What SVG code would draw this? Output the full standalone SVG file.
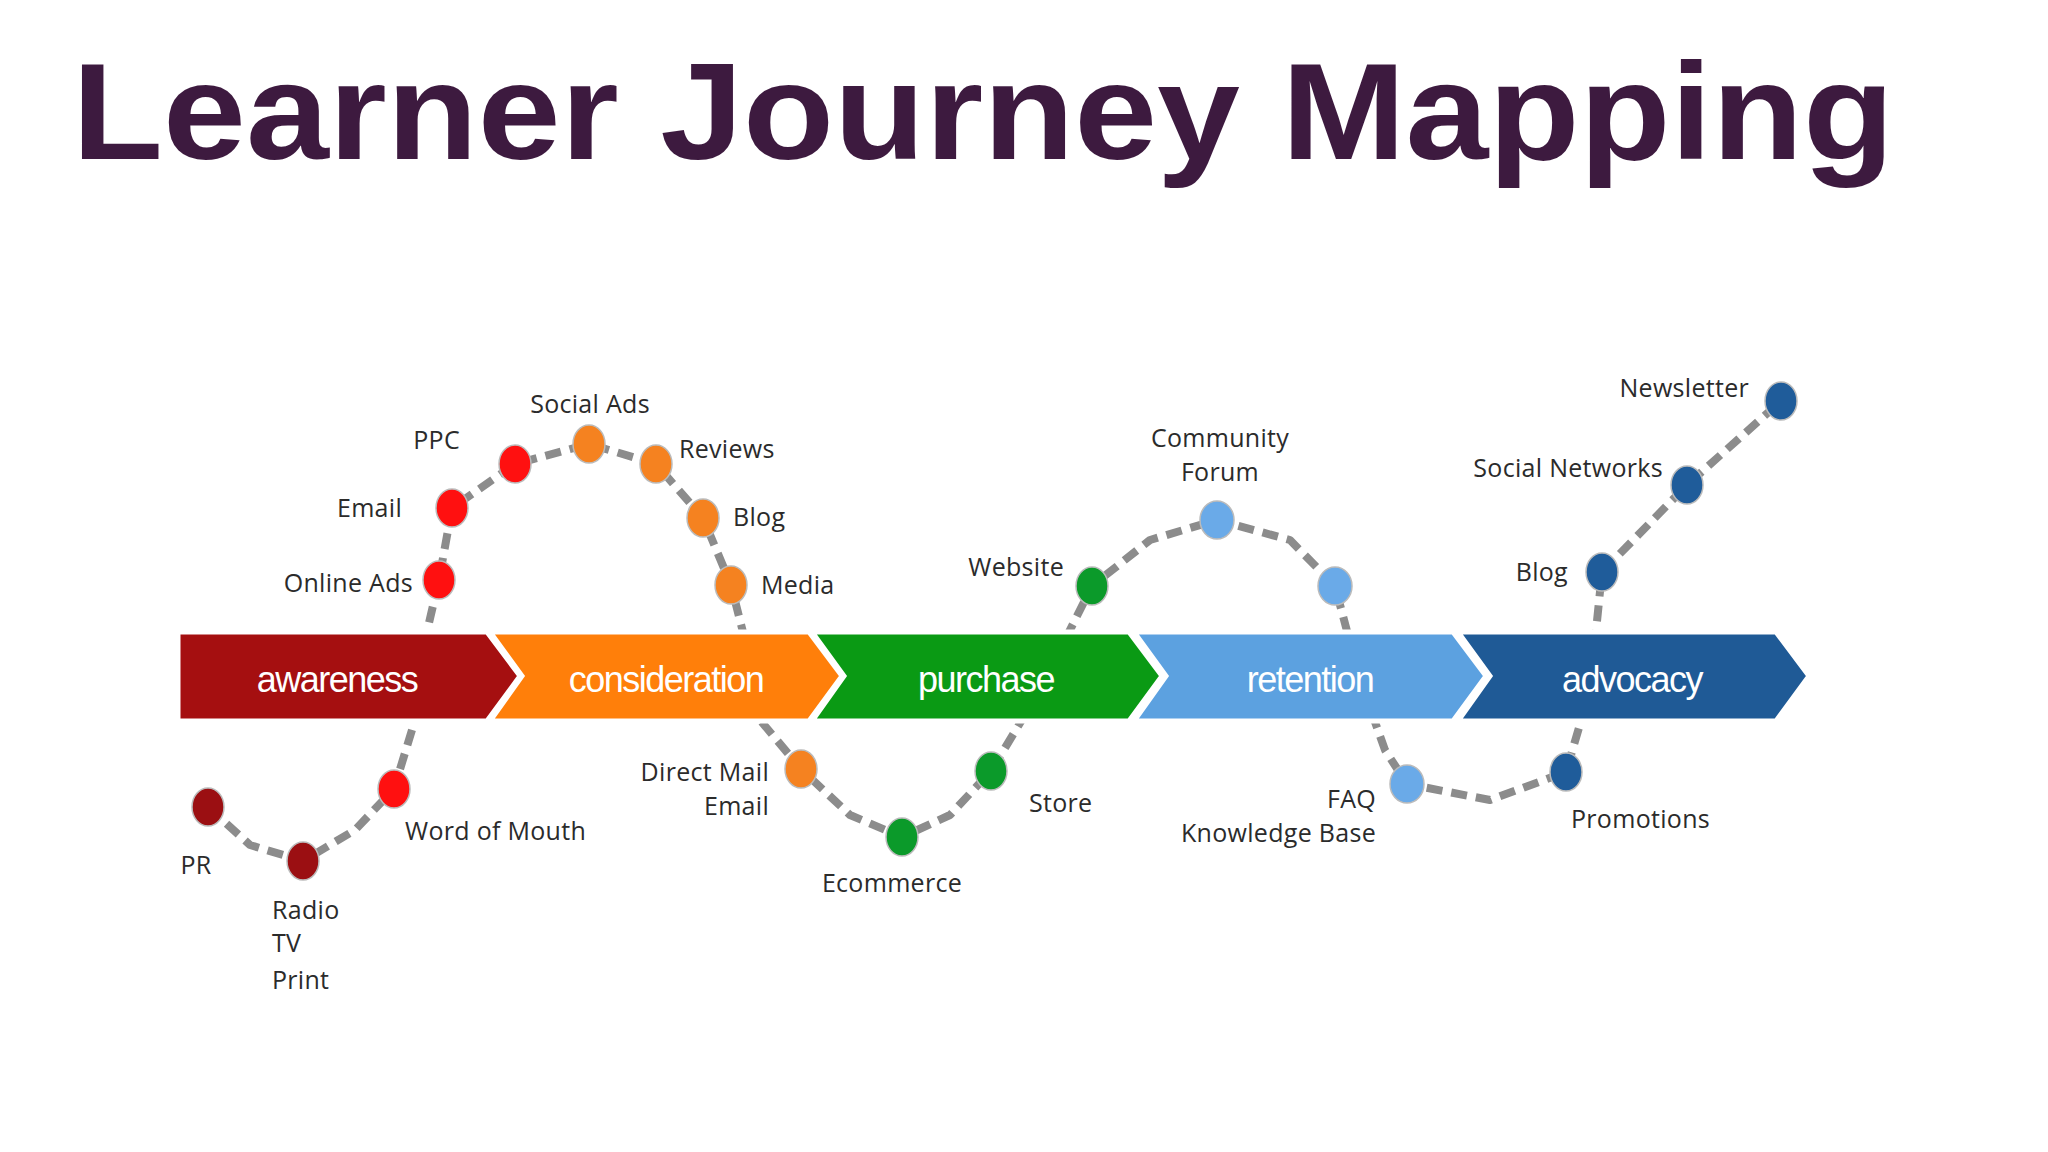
<svg xmlns="http://www.w3.org/2000/svg" width="2048" height="1152" viewBox="0 0 2048 1152">
<style>
.lb{font-family:"Open Sans","Liberation Sans",sans-serif;font-size:25px;fill:#2b2b2b;letter-spacing:0.3px}
.st{font-family:"Liberation Sans",sans-serif;font-size:36px;fill:#fff;text-anchor:middle;letter-spacing:-1.5px}
.ch{stroke:#fff;stroke-width:5;stroke-linejoin:miter}
.e{text-anchor:end}.m{text-anchor:middle}
</style>
<rect width="2048" height="1152" fill="#fff"/>
<text x="72" y="159" font-family="Liberation Sans,sans-serif" font-weight="bold" font-size="138" fill="#3d1a3f" textLength="1822" lengthAdjust="spacingAndGlyphs">Learner Journey Mapping</text>
<g id="connectors">
<polyline fill="none" stroke="#8c8c8c" stroke-width="8" stroke-dasharray="16 9" stroke-linejoin="round" points="208,807 250,845 303,861 355,830 394,789 415,720 425,640 439,580 452,508 515,464 589,444 656,464 703,518 731,585 745,640 760,720 801,769 850,815 902,837 950,815 991,771 1040,690 1092,586 1150,540 1217,520 1290,540 1335,586 1360,680 1385,750 1407,784 1490,800 1566,772 1590,690 1602,572 1687,485 1781,401"/>
</g>
<g id="awareness"><polygon class="ch" points="178,632 487,632 520,676 487,721 178,721" fill="#a50f10"/><text class="st" x="337" y="692">awareness</text></g>
<g id="consideration"><polygon class="ch" points="490,632 809,632 842,676 809,721 490,721 522,676" fill="#ff7f0a"/><text class="st" x="666" y="692">consideration</text></g>
<g id="purchase"><polygon class="ch" points="812,632 1129,632 1162,676 1129,721 812,721 844,676" fill="#0a9a14"/><text class="st" x="986" y="692">purchase</text></g>
<g id="retention"><polygon class="ch" points="1134,632 1453,632 1486,676 1453,721 1134,721 1166,676" fill="#5ca1e0"/><text class="st" x="1310" y="692">retention</text></g>
<g id="advocacy"><polygon class="ch" points="1458,632 1776,632 1809,676 1776,721 1458,721 1490,676" fill="#1f5a96"/><text class="st" x="1632" y="692">advocacy</text></g>
<g id="dots" stroke="#bbb" stroke-width="1.5">
<ellipse cx="208" cy="807" rx="16" ry="19" fill="#9b0f12"/>
<ellipse cx="303" cy="861" rx="16" ry="19" fill="#9b0f12"/>
<ellipse cx="394" cy="789" rx="16" ry="19" fill="#ff1010"/>
<ellipse cx="439" cy="580" rx="16" ry="19" fill="#ff1010"/>
<ellipse cx="452" cy="508" rx="16" ry="19" fill="#ff1010"/>
<ellipse cx="515" cy="464" rx="16" ry="19" fill="#ff1010"/>
<ellipse cx="589" cy="444" rx="16" ry="19" fill="#f58220"/>
<ellipse cx="656" cy="464" rx="16" ry="19" fill="#f58220"/>
<ellipse cx="703" cy="518" rx="16" ry="19" fill="#f58220"/>
<ellipse cx="731" cy="585" rx="16" ry="19" fill="#f58220"/>
<ellipse cx="801" cy="769" rx="16" ry="19" fill="#f58220"/>
<ellipse cx="902" cy="837" rx="16" ry="19" fill="#0b9a2a"/>
<ellipse cx="991" cy="771" rx="16" ry="19" fill="#0b9a2a"/>
<ellipse cx="1092" cy="586" rx="16" ry="19" fill="#0b9a2a"/>
<ellipse cx="1217" cy="520" rx="17" ry="19" fill="#6aaae8"/>
<ellipse cx="1335" cy="586" rx="17" ry="19" fill="#6aaae8"/>
<ellipse cx="1407" cy="784" rx="17" ry="19" fill="#6aaae8"/>
<ellipse cx="1566" cy="772" rx="16" ry="19" fill="#1f5c9a"/>
<ellipse cx="1602" cy="572" rx="16" ry="19" fill="#1f5c9a"/>
<ellipse cx="1687" cy="485" rx="16" ry="19" fill="#1f5c9a"/>
<ellipse cx="1781" cy="401" rx="16" ry="19" fill="#1f5c9a"/>
</g>
<g id="labels">
<text class="lb m" x="196" y="874">PR</text>
<text class="lb" x="272" y="919">Radio</text>
<text class="lb" x="272" y="952">TV</text>
<text class="lb" x="272" y="989">Print</text>
<text class="lb" x="405" y="840">Word of Mouth</text>
<text class="lb e" x="413" y="592">Online Ads</text>
<text class="lb e" x="402" y="517">Email</text>
<text class="lb e" x="460" y="449">PPC</text>
<text class="lb m" x="590" y="413">Social Ads</text>
<text class="lb" x="679" y="458">Reviews</text>
<text class="lb" x="733" y="526">Blog</text>
<text class="lb" x="761" y="594">Media</text>
<text class="lb e" x="769" y="781">Direct Mail</text>
<text class="lb e" x="769" y="815">Email</text>
<text class="lb m" x="892" y="892">Ecommerce</text>
<text class="lb" x="1029" y="812">Store</text>
<text class="lb e" x="1064" y="576">Website</text>
<text class="lb m" x="1220" y="447">Community</text>
<text class="lb m" x="1220" y="481">Forum</text>
<text class="lb e" x="1376" y="808">FAQ</text>
<text class="lb e" x="1376" y="842">Knowledge Base</text>
<text class="lb" x="1571" y="828">Promotions</text>
<text class="lb e" x="1568" y="581">Blog</text>
<text class="lb e" x="1663" y="477">Social Networks</text>
<text class="lb e" x="1749" y="397">Newsletter</text>
</g>
</svg>
